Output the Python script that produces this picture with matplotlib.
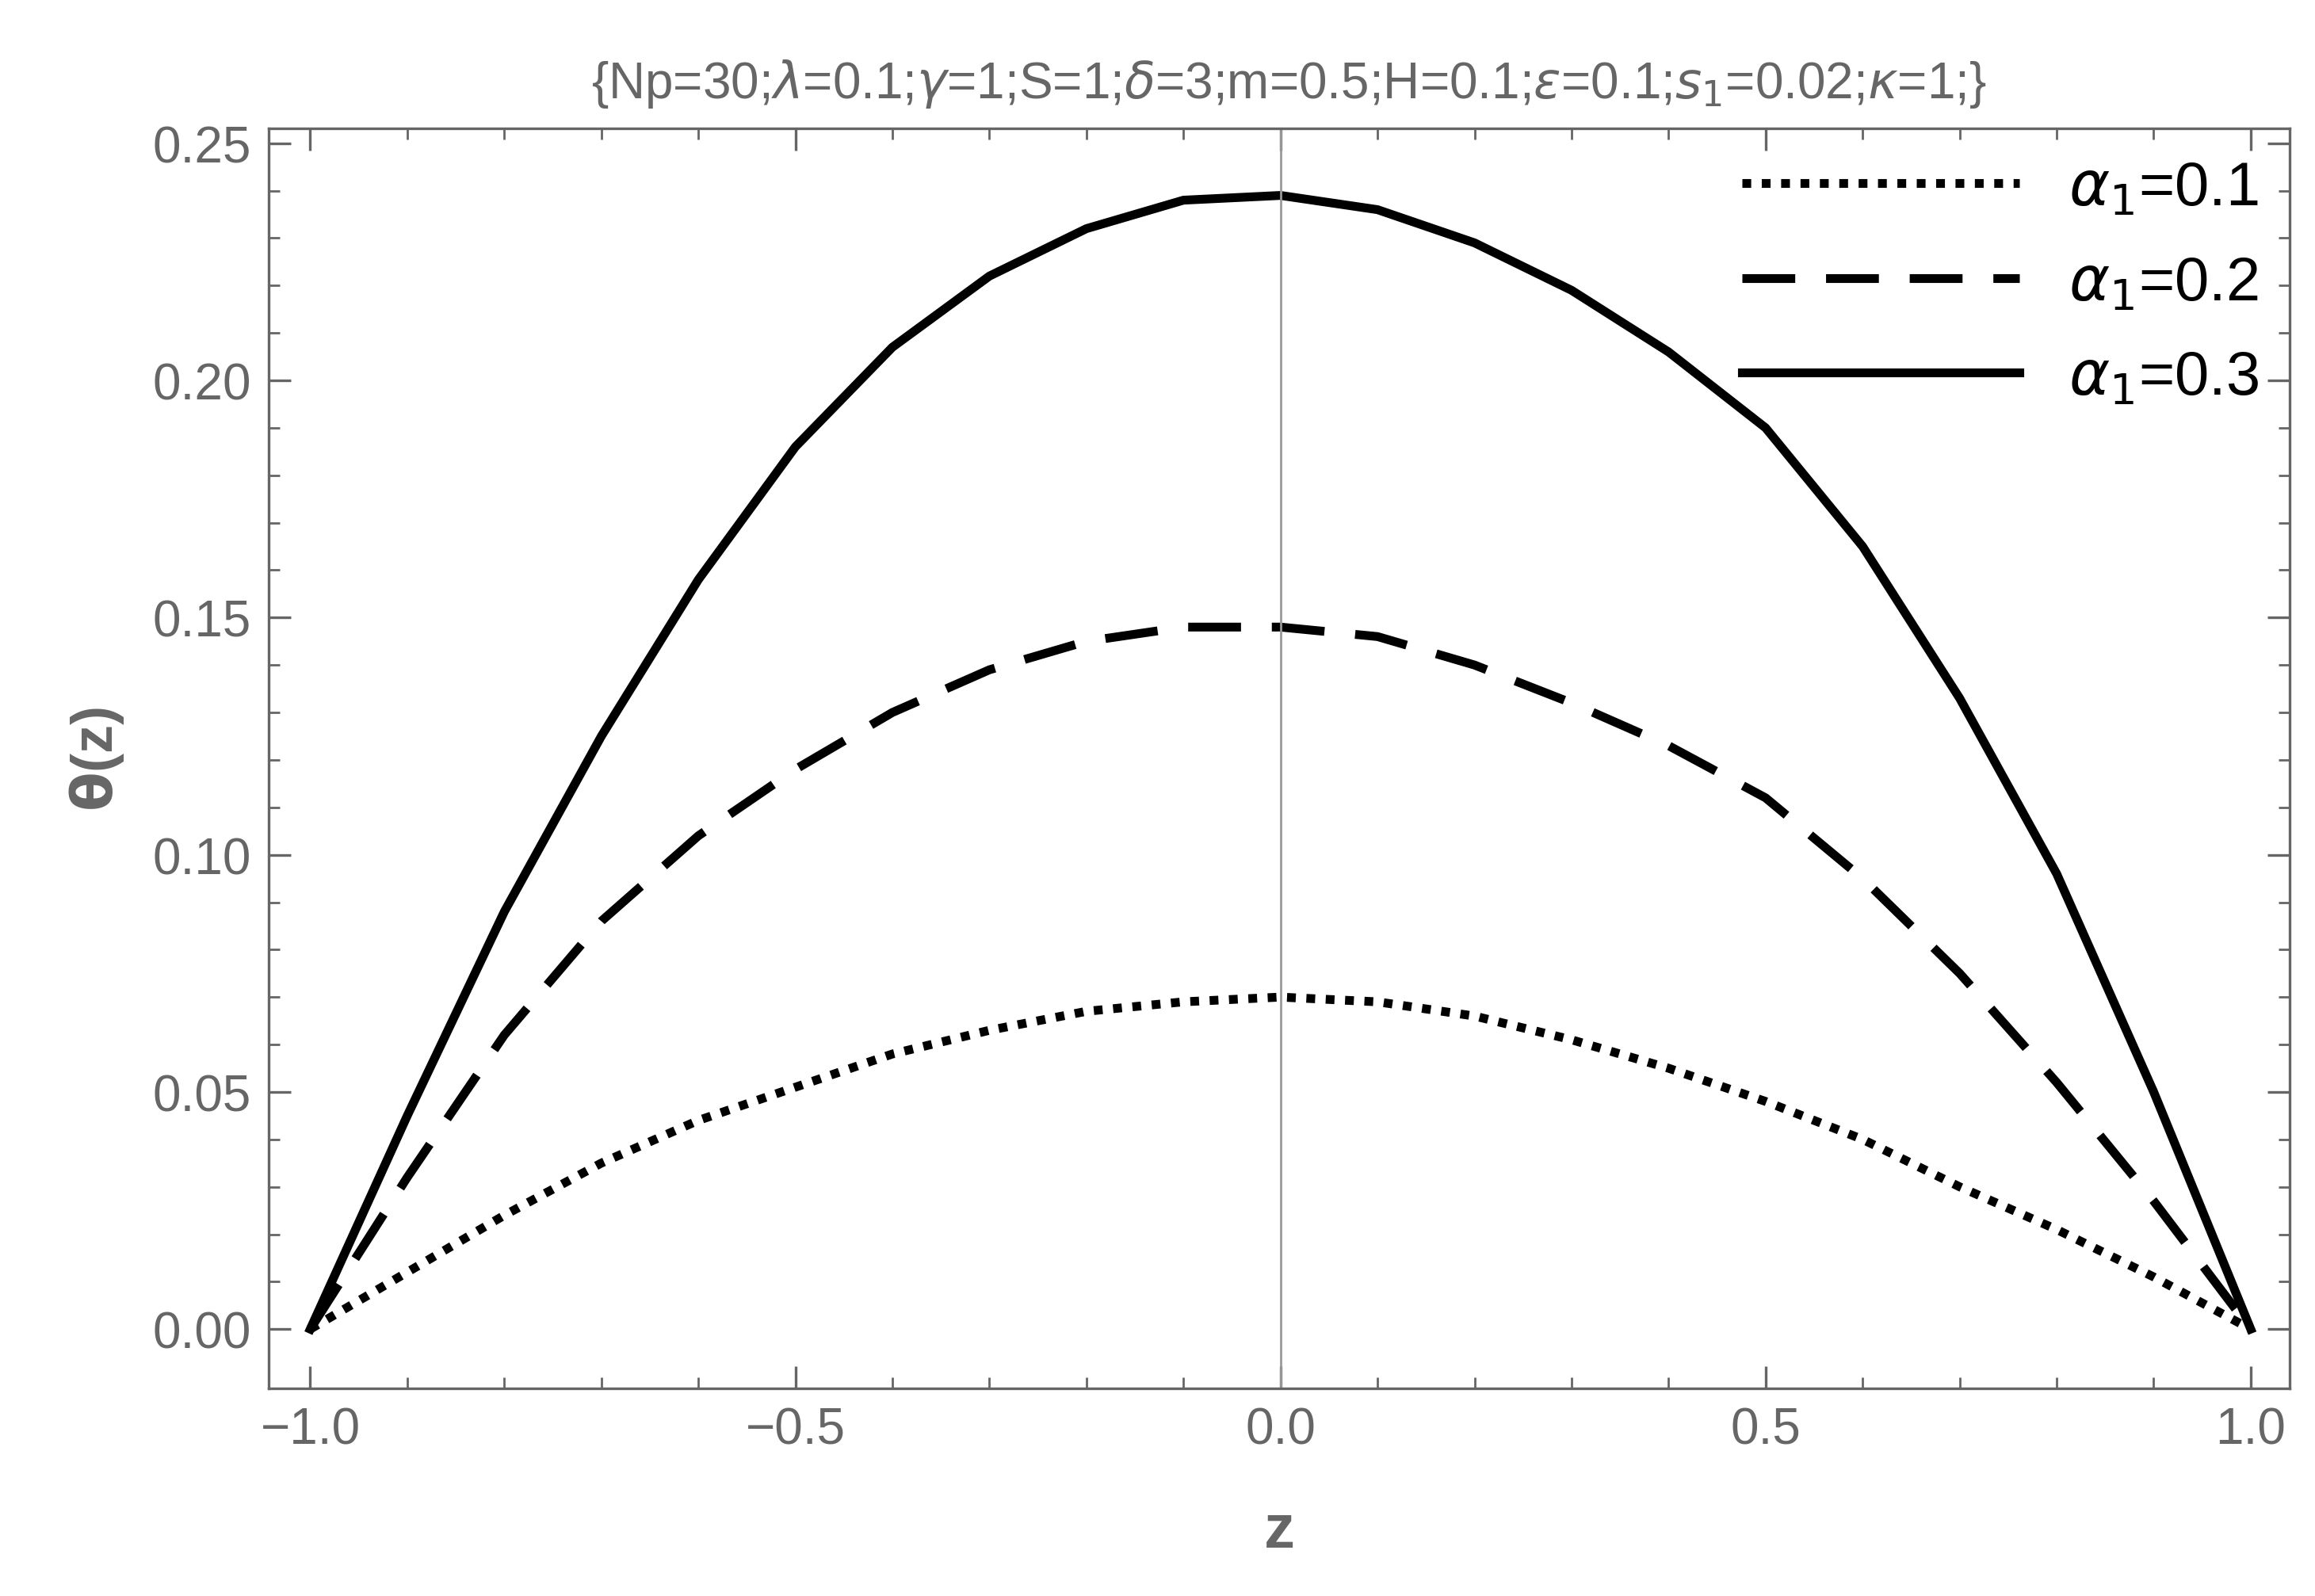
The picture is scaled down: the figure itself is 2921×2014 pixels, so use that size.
import numpy as np
import matplotlib
matplotlib.use("Agg")
import matplotlib.pyplot as plt

plt.rcParams['font.family'] = ['Liberation Sans', 'DejaVu Sans']

z = [-1.0, -0.9, -0.8, -0.7, -0.6, -0.5, -0.4, -0.3, -0.2, -0.1, 0.0,
     0.1, 0.2, 0.3, 0.4, 0.5, 0.6, 0.7, 0.8, 0.9, 1.0]
theta_a01 = [0, 0.012, 0.024, 0.035, 0.044, 0.051, 0.058, 0.063, 0.067, 0.069, 0.070,
             0.069, 0.066, 0.061, 0.055, 0.048, 0.040, 0.030, 0.021, 0.011, 0]
theta_a02 = [0, 0.032, 0.062, 0.086, 0.104, 0.118, 0.130, 0.139, 0.145, 0.148, 0.148,
             0.146, 0.140, 0.132, 0.123, 0.112, 0.095, 0.075, 0.052, 0.027, 0]
theta_a03 = [0, 0.045, 0.088, 0.125, 0.158, 0.186, 0.207, 0.222, 0.232, 0.238, 0.239,
             0.236, 0.229, 0.219, 0.206, 0.190, 0.165, 0.133, 0.096, 0.050, 0]
labels = [r'$\alpha_1$=0.1', r'$\alpha_1$=0.2', r'$\alpha_1$=0.3']

gray = '#666666'
fig = plt.figure(figsize=(14.605, 10.075), dpi=200)
ax = fig.add_axes([0.116, 0.130, 0.873, 0.789])

ax.plot(z, theta_a01, color='black', lw=4, linestyle=(0, (1, 1.2)), label=labels[0])
ax.plot(z, theta_a02, color='black', lw=4, linestyle=(0, (6, 3.5)), label=labels[1])
ax.plot(z, theta_a03, color='black', lw=4, label=labels[2])
ax.axvline(0, color='#999999', lw=1)

ax.set_xlim(-1.043, 1.04)
ax.set_ylim(-0.0125, 0.2531)
ax.set_xticks([-1.0, -0.5, 0.0, 0.5, 1.0])
ax.set_xticklabels(['\u22121.0', '\u22120.5', '0.0', '0.5', '1.0'])
ax.set_yticks(np.arange(0, 0.251, 0.05))
ax.set_yticklabels(['0.00', '0.05', '0.10', '0.15', '0.20', '0.25'])
ax.set_xticks(np.arange(-1, 1.01, 0.1), minor=True)
ax.set_yticks(np.arange(0, 0.251, 0.01), minor=True)
ax.tick_params(which='both', direction='in', colors=gray, labelsize=23,
               top=True, right=True)
ax.tick_params(which='major', length=10, width=1.2, labelcolor=gray, pad=8)
ax.tick_params(which='minor', length=5, width=1)
for s in ax.spines.values():
    s.set_color(gray)
    s.set_linewidth(1.2)

ax.set_xlabel('z', fontsize=28, color=gray, fontweight='bold', labelpad=22)
ax.set_ylabel(r'$\mathbf{\theta}$(z)', fontsize=26, color=gray, fontweight='bold', labelpad=12)
ax.set_title(r'{Np=30;$\lambda$=0.1;$\gamma$=1;S=1;$\delta$=3;m=0.5;H=0.1;$\epsilon$=0.1;$s_1$=0.02;$\kappa$=1;}',
             fontsize=23, color=gray, pad=14, x=0.505)

leg = ax.legend(loc='upper right', fontsize=28, frameon=False, handlelength=4.5,
                labelspacing=0.6, borderaxespad=0.1)

fig.savefig('out.png', dpi=200)
